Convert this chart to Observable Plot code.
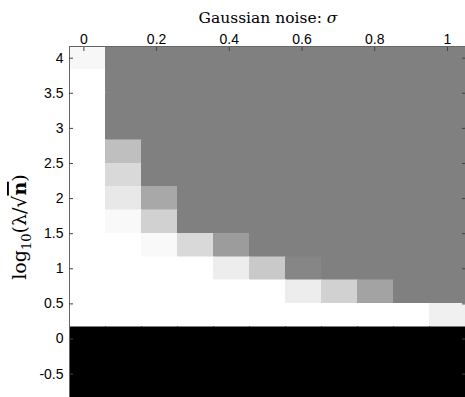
<!DOCTYPE html>
<html>
<head>
<meta charset="utf-8">
<script src="https://cdn.jsdelivr.net/npm/d3@7"></script>
<script src="https://cdn.jsdelivr.net/npm/@observablehq/plot@0.6"></script>
<style>
  html, body { margin: 0; padding: 0; background: #fff; }
  #chart svg { display: block; }
</style>
</head>
<body>
<div id="chart"></div>
<script>
// Column positions: Gaussian noise sigma
const sigma = [0.01, 0.109, 0.208, 0.307, 0.406, 0.505, 0.604, 0.703, 0.802, 0.901, 1.0];
// Row positions: log10(lambda / sqrt(n))
const logLambda = [4, 3.667, 3.333, 3, 2.667, 2.333, 2, 1.667, 1.333, 1, 0.667, 0.333, 0, -0.333, -0.667];
// Cell values (gray level, 0 = black, 1 = white), one array per row, top to bottom
const row_4_000 = [0.97, 0.5, 0.5, 0.5, 0.5, 0.5, 0.5, 0.5, 0.5, 0.5, 0.5];
const row_3_667 = [1, 0.5, 0.5, 0.5, 0.5, 0.5, 0.5, 0.5, 0.5, 0.5, 0.5];
const row_3_333 = [1, 0.5, 0.5, 0.5, 0.5, 0.5, 0.5, 0.5, 0.5, 0.5, 0.5];
const row_3_000 = [1, 0.5, 0.5, 0.5, 0.5, 0.5, 0.5, 0.5, 0.5, 0.5, 0.5];
const row_2_667 = [1, 0.75, 0.5, 0.5, 0.5, 0.5, 0.5, 0.5, 0.5, 0.5, 0.5];
const row_2_333 = [1, 0.85, 0.5, 0.5, 0.5, 0.5, 0.5, 0.5, 0.5, 0.5, 0.5];
const row_2_000 = [1, 0.91, 0.66, 0.5, 0.5, 0.5, 0.5, 0.5, 0.5, 0.5, 0.5];
const row_1_667 = [1, 0.975, 0.82, 0.5, 0.5, 0.5, 0.5, 0.5, 0.5, 0.5, 0.5];
const row_1_333 = [1, 1, 0.975, 0.85, 0.61, 0.5, 0.5, 0.5, 0.5, 0.5, 0.5];
const row_1_000 = [1, 1, 1, 1, 0.93, 0.79, 0.525, 0.5, 0.5, 0.5, 0.5];
const row_0_667 = [1, 1, 1, 1, 1, 1, 0.93, 0.82, 0.64, 0.5, 0.5];
const row_0_333 = [1, 1, 1, 1, 1, 1, 1, 1, 1, 1, 0.94];
const row_0_000 = [0, 0, 0, 0, 0, 0, 0, 0, 0, 0, 0];
const row_m0_333 = [0, 0, 0, 0, 0, 0, 0, 0, 0, 0, 0];
const row_m0_667 = [0, 0, 0, 0, 0, 0, 0, 0, 0, 0, 0];
const rows = [row_4_000, row_3_667, row_3_333, row_3_000, row_2_667, row_2_333, row_2_000,
              row_1_667, row_1_333, row_1_000, row_0_667, row_0_333, row_0_000, row_m0_333, row_m0_667];

const xTicks = [0, 0.2, 0.4, 0.6, 0.8, 1];
const yTicks = [-0.5, 0, 0.5, 1, 1.5, 2, 2.5, 3, 3.5, 4];
const xTitle = "Gaussian noise: ";
const xTitleSym = "σ";

// Build cell table from the arrays
const dxs = sigma[1] - sigma[0];
const dys = logLambda[0] - logLambda[1];
const cells = [];
rows.forEach((vals, r) => {
  vals.forEach((v, c) => {
    cells.push({
      x1: sigma[c] - dxs / 2, x2: sigma[c] + dxs / 2,
      y1: logLambda[r] - dys / 2, y2: logLambda[r] + dys / 2,
      v
    });
  });
});

const chart = Plot.plot({
  width: 465,
  height: 397,
  marginLeft: 69,
  marginRight: 0,
  marginTop: 46,
  marginBottom: 0,
  style: { fontFamily: "'Liberation Sans', Arial, sans-serif", fontSize: "14px", background: "#fff" },
  x: { domain: [sigma[0] - dxs / 2, sigma[sigma.length - 1] + dxs / 2], label: null },
  y: { domain: [logLambda[logLambda.length - 1] - dys / 2, logLambda[0] + dys / 2], label: null },
  color: { type: "linear", domain: [0, 1], range: ["#000", "#fff"], interpolate: d3.interpolateRgb },
  marks: [
    Plot.rect(cells, { x1: "x1", x2: "x2", y1: "y1", y2: "y2", fill: "v", stroke: "v", strokeWidth: 0.5, shapeRendering: "crispEdges" }),
    Plot.frame({ stroke: "#666" }),
    Plot.axisX({ anchor: "top", ticks: xTicks, tickSize: -4, tickPadding: 7, label: null, tickFormat: d => String(d), stroke: "#444", fill: "#000" }),
    Plot.axisY({ anchor: "left", ticks: yTicks, tickSize: -4, tickPadding: 10, label: null, tickFormat: d => String(d), stroke: "#444", fill: "#000" }),
    Plot.axisY({ anchor: "right", ticks: yTicks, tickSize: -4, tickPadding: 10, label: null, tickFormat: () => "", stroke: "#444" })
  ]
});

document.getElementById("chart").appendChild(chart);

// Axis titles (real text with mixed styles)
const svg = d3.select(chart);
const xt = svg.append("text")
  .attr("x", 268).attr("y", 23)
  .attr("text-anchor", "middle")
  .attr("font-family", "'DejaVu Serif', serif")
  .attr("font-size", 15.5)
  .attr("fill", "#000");
xt.append("tspan").text(xTitle);
xt.append("tspan").attr("font-style", "italic").text(xTitleSym);

const yt = svg.append("text")
  .attr("transform", "translate(26,227) rotate(-90)")
  .attr("text-anchor", "middle")
  .attr("font-family", "'DejaVu Serif', serif")
  .attr("font-size", 19)
  .attr("fill", "#000");
yt.append("tspan").text("log");
yt.append("tspan").attr("font-size", 13).attr("dy", 5).text("10");
yt.append("tspan").attr("dy", -5).text("(λ/√");
yt.append("tspan").attr("text-decoration", "overline").attr("font-weight", "bold").text("n");
yt.append("tspan").text(")");
</script>
</body>
</html>
